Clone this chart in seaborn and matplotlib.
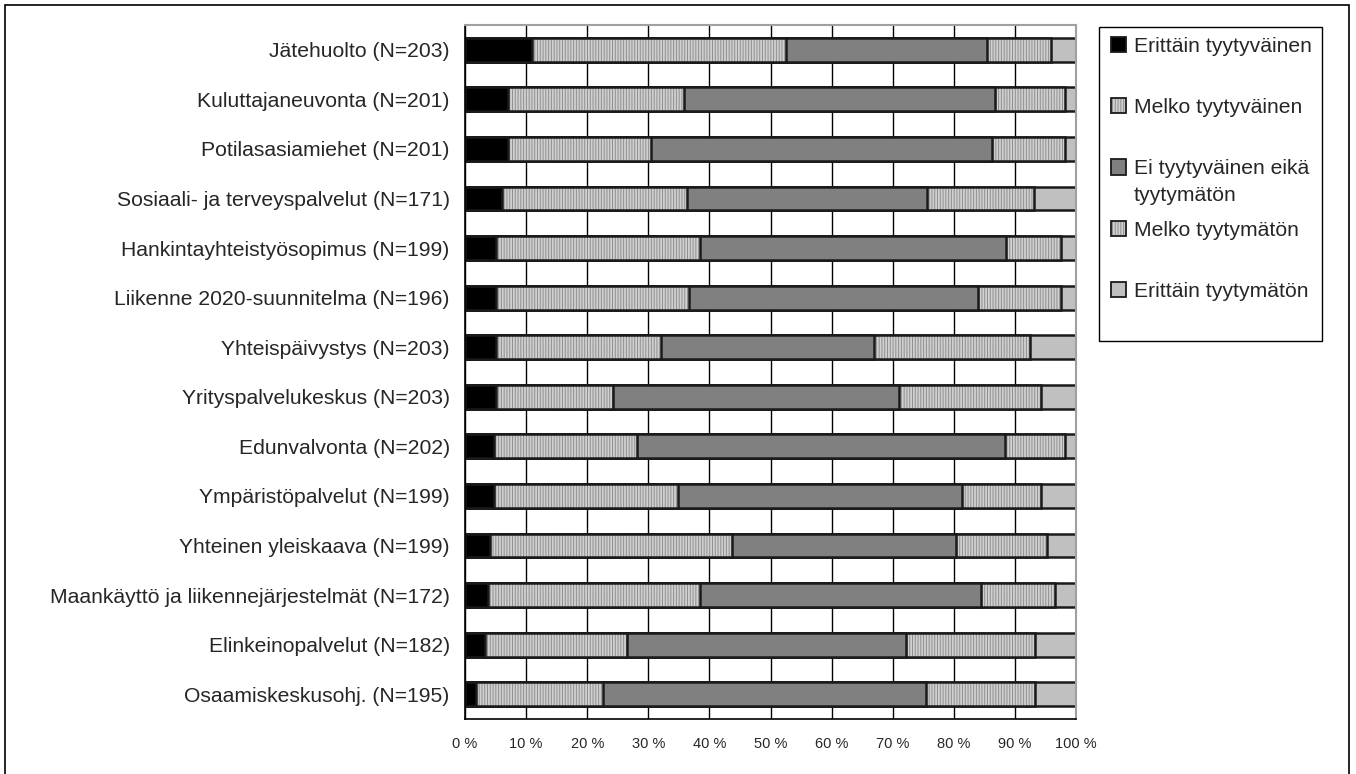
import pandas as pd
import seaborn as sns
import matplotlib.pyplot as plt
from matplotlib.patches import Patch, Rectangle
from matplotlib.text import Annotation

categories = [
    "Jätehuolto (N=203)",
    "Kuluttajaneuvonta (N=201)",
    "Potilasasiamiehet (N=201)",
    "Sosiaali- ja terveyspalvelut (N=171)",
    "Hankintayhteistyösopimus (N=199)",
    "Liikenne 2020-suunnitelma (N=196)",
    "Yhteispäivystys (N=203)",
    "Yrityspalvelukeskus (N=203)",
    "Edunvalvonta (N=202)",
    "Ympäristöpalvelut (N=199)",
    "Yhteinen yleiskaava (N=199)",
    "Maankäyttö ja liikennejärjestelmät (N=172)",
    "Elinkeinopalvelut (N=182)",
    "Osaamiskeskusohj. (N=195)",
]
levels = [
    "Erittäin tyytyväinen",
    "Melko tyytyväinen",
    "Ei tyytyväinen eikä\ntyytymätön",
    "Melko tyytymätön",
    "Erittäin tyytymätön",
]
# percentages per level
erittain_tyytyvainen = [10.9, 7.0, 7.0, 6.1, 5.1, 5.0, 5.0, 5.0, 4.7, 4.7, 4.1, 3.8, 3.3, 1.8]
melko_tyytyvainen = [41.6, 28.8, 23.5, 30.3, 33.3, 31.7, 27.1, 19.3, 23.5, 30.1, 39.6, 34.6, 23.2, 20.8]
ei_kumpikaan = [32.9, 50.9, 55.8, 39.2, 50.2, 47.3, 34.9, 46.7, 60.1, 46.5, 36.7, 46.0, 45.6, 52.8]
melko_tyytymaton = [10.5, 11.5, 11.9, 17.6, 8.9, 13.5, 25.5, 23.2, 9.9, 12.9, 14.8, 12.2, 21.2, 17.9]
erittain_tyytymaton = [4.1, 1.8, 1.8, 6.8, 2.5, 2.5, 7.5, 5.8, 1.8, 5.8, 4.8, 3.4, 6.7, 6.7]
xtick_labels = ["0 %", "10 %", "20 %", "30 %", "40 %", "50 %", "60 %", "70 %", "80 %", "90 %", "100 %"]

series = [erittain_tyytyvainen, melko_tyytyvainen, ei_kumpikaan, melko_tyytymaton, erittain_tyytymaton]
styles = [
    dict(face="black", hatch=None),
    dict(face="#d0d0d0", hatch="||||||"),
    dict(face="#808080", hatch=None),
    dict(face="#d0d0d0", hatch="||||||"),
    dict(face="#c0c0c0", hatch=None),
]
edge = "#1a1a1a"

rows = []
for i, cat in enumerate(categories):
    cum = 0.0
    for lev, vals in zip(levels, series):
        cum += vals[i]
        rows.append({"category": cat, "level": lev, "cum": cum})
df = pd.DataFrame(rows)

sns.set_style("white")
plt.rcParams["font.family"] = ["Liberation Sans", "DejaVu Sans"]
plt.rcParams["hatch.linewidth"] = 0.7

W, H = 1356, 774
fig = plt.figure(figsize=(W / 100, H / 100), dpi=100)
ax = fig.add_axes([465 / W, 1 - 719 / H, 611 / W, 694 / H])

bar_w = 0.48
for lev, st in reversed(list(zip(levels, styles))):
    sub = df[df["level"] == lev]
    if st["hatch"]:
        n0 = len(ax.patches)
        sns.barplot(data=sub, x="cum", y="category", order=categories, orient="h",
                    color=st["face"], width=bar_w, errorbar=None, saturation=1,
                    edgecolor="#8e8e8e", linewidth=0, ax=ax)
        for p in ax.patches[n0:]:
            p.set_hatch(st["hatch"])
            p.set_facecolor(st["face"])
        sns.barplot(data=sub, x="cum", y="category", order=categories, orient="h",
                    color=edge, fill=False, width=bar_w, errorbar=None,
                    linewidth=1.8, ax=ax)
    else:
        sns.barplot(data=sub, x="cum", y="category", order=categories, orient="h",
                    color=st["face"], width=bar_w, errorbar=None, saturation=1,
                    edgecolor=edge, linewidth=1.8, ax=ax)

ax.set_xlim(0, 100)
ax.set_ylim(len(categories) - 0.5, -0.5)
ax.set_xticks(range(0, 101, 10))
ax.set_xticklabels(xtick_labels, fontsize=10.5)
ax.set_yticks(range(len(categories)))
ax.set_yticklabels(categories, fontsize=15.2)
ax.set_yticks([i - 0.5 for i in range(len(categories) + 1)], minor=True)
ax.tick_params(axis="y", which="major", length=0, pad=11)
ax.tick_params(axis="y", which="minor", length=6, width=1, color="black", direction="out")
ax.tick_params(axis="x", length=6, width=1, color="black", direction="out", pad=7)
ax.set_xlabel("")
ax.set_ylabel("")
ax.grid(axis="x", color="black", linewidth=1)
ax.set_axisbelow(True)
for side in ["left", "bottom"]:
    ax.spines[side].set_color("black")
    ax.spines[side].set_linewidth(1.2)
for side in ["top", "right"]:
    ax.spines[side].set_color("#a0a0a0")
    ax.spines[side].set_linewidth(1.5)

# legend: Excel-like, wrapped third label, tall box
handles = []
for st in styles:
    if st["hatch"]:
        handles.append((Patch(facecolor=st["face"], edgecolor="#8e8e8e", hatch=st["hatch"], linewidth=0),
                        Patch(fill=False, edgecolor=edge, linewidth=1.3)))
    else:
        handles.append(Patch(facecolor=st["face"], edgecolor=edge, linewidth=1.3))
first_lines = [lab.split("\n")[0] for lab in levels]
leg = fig.legend(handles, first_lines, loc="upper left", bbox_to_anchor=(1099 / W, 1 - 25 / H),
                 fontsize=15.2, frameon=False,
                 handlelength=0.75, handleheight=0.75, handletextpad=0.35,
                 labelspacing=2.0, borderpad=0.55, borderaxespad=0)
for lab, t in zip(levels, leg.get_texts()):
    if "\n" in lab:
        extra = Annotation(lab.split("\n", 1)[1], xy=(0, 0), xycoords=t,
                           xytext=(0, -16.5), textcoords="offset points",
                           va="baseline", ha="left", fontsize=15.2,
                           annotation_clip=False, zorder=10)
        fig.add_artist(extra)
fig.patches.append(Rectangle((1099 / W, 1 - 341 / H), 223 / W, 314 / H,
                             transform=fig.transFigure, fill=False,
                             edgecolor="black", linewidth=1))

fig.patches.append(Rectangle((5 / W, -0.02), 1344 / W, 1.02 - 5 / H,
                             transform=fig.transFigure, fill=False,
                             edgecolor="black", linewidth=1.2))

fig.savefig("out.png", dpi=100, facecolor="white")
